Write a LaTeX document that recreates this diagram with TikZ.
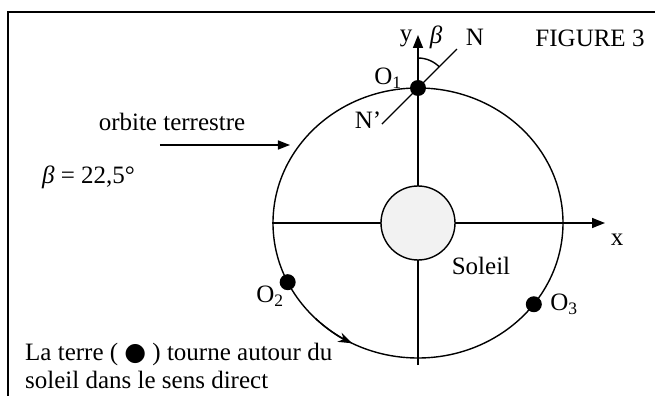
\documentclass[tikz,border=0pt]{standalone}
\usepackage{fontspec}
\setmainfont{Liberation Serif}
\newfontfamily\symfont{DejaVu Sans}
\usepackage{tikz}
\usetikzlibrary{arrows.meta,calc}

\begin{document}
\begin{tikzpicture}[x=1pt, y=1pt,
  lbl/.style={font=\fontsize{25}{28}\selectfont, inner sep=0pt},
  frame/.style={line width=1.2pt},
  axis/.style={line width=1.5pt, -{Triangle[length=13pt,width=10pt]}},
  orbitline/.style={line width=1.4pt},
  sun/.style={circle, draw, line width=1.4pt, fill=gray!10, minimum size=74pt, inner sep=0pt},
  earth/.style={circle, fill=black, inner sep=0pt, minimum size=16pt},
  ptr/.style={line width=1.5pt, -{Triangle[length=12pt,width=9pt]}},
  motion/.style={line width=1.4pt, -{Stealth[length=14pt,width=10pt]}}
]
\useasboundingbox (-418,-173) rectangle (237,223);
\coordinate (fa) at (237,211);
\coordinate (fb) at (-410,211);
\coordinate (fc) at (-410,-173);
\draw[frame] (fa) -- (fb) -- (fc);
\coordinate (xa) at (-146,0);
\coordinate (xb) at (187,0);
\coordinate (ya) at (0,-142);
\coordinate (yb) at (0,188);
\draw[axis] (xa) -- (xb);
\draw[axis] (ya) -- (yb);
\draw[orbitline] (0,0) ellipse [x radius=145pt, y radius=135pt];
\draw[motion] (225:145pt and 135pt) arc[start angle=225, end angle=243, x radius=145pt, y radius=135pt];
\node[sun] (soleil) at (0,0) {};
\coordinate (O1c) at (90:145pt and 135pt);
\coordinate (Na) at ($(O1c)+(45:55pt)$);
\coordinate (Nb) at ($(O1c)+(225:51pt)$);
\draw[orbitline] (Nb) -- (Na);
\draw[orbitline] ($(O1c)+(90:30pt)$) arc[start angle=90, end angle=45, radius=30pt];
\node[earth] (O1) at (O1c) {};
\node[earth] (O2) at (206:145pt and 135pt) {};
\node[earth] (O3) at (323:145pt and 135pt) {};
\node[lbl] (ylab) at (-12,185) {y};
\node[lbl] (betalab) at (18,186) {\textit{β}};
\node[lbl] (Nlab) at (57,186) {N};
\node[lbl] (figlab) at (172,185) {FIGURE 3};
\node[lbl] (O1lab) at (-30,145) {O\textsubscript{1}};
\node[lbl] (Nplab) at (-50,103) {N’};
\node[lbl] (xlab) at (199,-17) {x};
\node[lbl] (sollab) at (63,-43) {Soleil};
\node[lbl] (O2lab) at (-148,-73) {O\textsubscript{2}};
\node[lbl] (O3lab) at (146,-81) {O\textsubscript{3}};
\node[lbl] (orblab) at (-246,101) {orbite terrestre};
\coordinate (oa) at (-258,78);
\coordinate (ob) at (-128,78);
\draw[ptr] (oa) -- (ob);
\node[lbl, anchor=west] (betaval) at (-376,46) {\textit{β} = 22,5°};
\node[lbl, anchor=west, align=left] (note) at (-393,-143) {La terre ( {\symfont ●} ) tourne autour du\\soleil dans le sens direct};
\end{tikzpicture}
\end{document}
